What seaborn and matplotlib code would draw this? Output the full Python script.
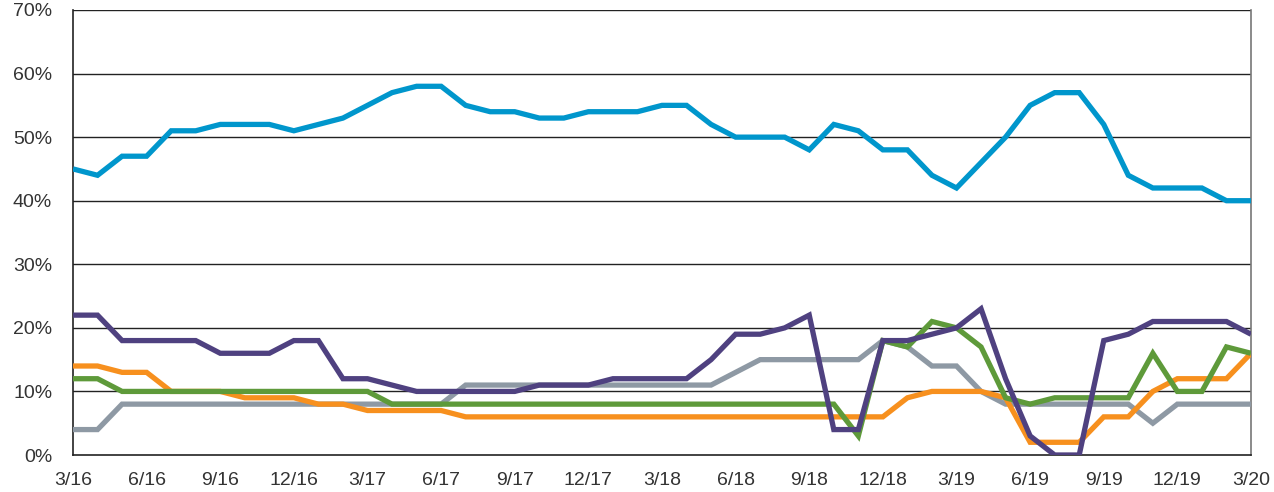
import numpy as np
import pandas as pd
import matplotlib
matplotlib.use("Agg")
import matplotlib.pyplot as plt
import seaborn as sns

# Monthly periods 3/16 .. 3/20
months = ["3/16","4/16","5/16","6/16","7/16","8/16","9/16","10/16","11/16","12/16","1/17","2/17",
          "3/17","4/17","5/17","6/17","7/17","8/17","9/17","10/17","11/17","12/17","1/18","2/18",
          "3/18","4/18","5/18","6/18","7/18","8/18","9/18","10/18","11/18","12/18","1/19","2/19",
          "3/19","4/19","5/19","6/19","7/19","8/19","9/19","10/19","11/19","12/19","1/20","2/20","3/20"]

blue = [45,44,47,47,51,51,52,52,52,51,52,53,55,57,58,58,55,54,54,53,53,54,54,54,55,55,52,50,50,50,
        48,52,51,48,48,44,42,46,50,55,57,57,52,44,42,42,42,40,40]
purple = [22,22,18,18,18,18,16,16,16,18,18,12,12,11,10,10,10,10,10,11,11,11,12,12,12,12,15,19,19,20,
          22,4,4,18,18,19,20,23,12,3,0,0,18,19,21,21,21,21,19]
orange = [14,14,13,13,10,10,10,9,9,9,8,8,7,7,7,7,6,6,6,6,6,6,6,6,6,6,6,6,6,6,
          6,6,6,6,9,10,10,10,9,2,2,2,6,6,10,12,12,12,16]
green = [12,12,10,10,10,10,10,10,10,10,10,10,10,8,8,8,8,8,8,8,8,8,8,8,8,8,8,8,8,8,
         8,8,3,18,17,21,20,17,9,8,9,9,9,9,16,10,10,17,16]
grey = [4,4,8,8,8,8,8,8,8,8,8,8,8,8,8,8,11,11,11,11,11,11,11,11,11,11,11,13,15,15,
        15,15,15,18,17,14,14,10,8,8,8,8,8,8,5,8,8,8,8]

series_names = ["grey", "orange", "green", "purple", "blue"]
series_values = [grey, orange, green, purple, blue]
colors = {"grey": "#8E99A4", "orange": "#F7901E", "green": "#5E9A3A",
          "purple": "#4F4180", "blue": "#0096CC"}

idx = np.arange(len(months))
df = pd.concat([pd.DataFrame({"t": idx, "value": vals, "series": name})
                for name, vals in zip(series_names, series_values)], ignore_index=True)

sns.set_theme(style="white")
plt.rcParams['font.family'] = ['Liberation Sans', 'DejaVu Sans']

fig = plt.figure(figsize=(12.74, 4.92), dpi=100)
ax = fig.add_axes([73/1274, 37/492, (1251-73)/1274, (455-10)/492])

for name in series_names:
    sub = df[df["series"] == name]
    sns.lineplot(data=sub, x="t", y="value", ax=ax, color=colors[name], linewidth=3.8,
                 legend=False, solid_joinstyle="miter", solid_capstyle="butt", zorder=3)

ax.set_xlim(0, len(months) - 1)
ax.set_ylim(0, 70)
ax.set_yticks(np.arange(0, 71, 10))
ax.set_yticklabels([f"{v}%" for v in range(0, 71, 10)])
ticks = idx[::3]
ax.set_xticks(ticks)
ax.set_xticklabels([months[i] for i in ticks])
ax.set_xlabel("")
ax.set_ylabel("")

for v in range(10, 71, 10):
    ax.axhline(v, color="#222222", linewidth=1.0, zorder=1)

for side in ["left", "bottom"]:
    ax.spines[side].set_color("#222222")
    ax.spines[side].set_linewidth(1.2)
ax.spines["top"].set_visible(False)
ax.spines["right"].set_color("#777777")
ax.spines["right"].set_linewidth(1.2)

ax.tick_params(axis="both", length=0, labelsize=14, colors="#333333")
ax.tick_params(axis="y", pad=15)
ax.tick_params(axis="x", pad=12)

fig.savefig("out.png", dpi=100)
